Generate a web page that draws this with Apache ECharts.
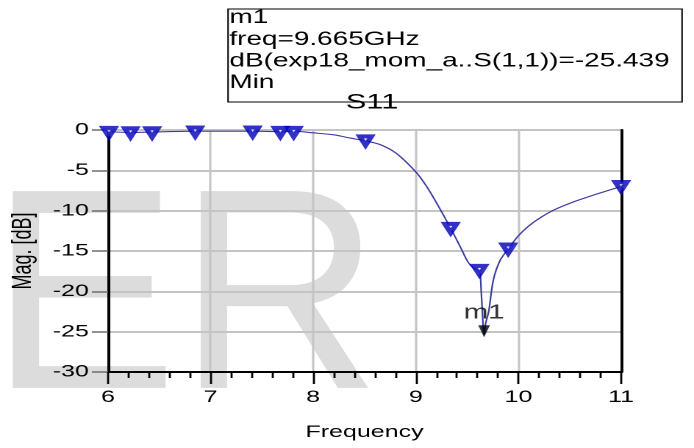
<!DOCTYPE html>
<html>
<head>
<meta charset="utf-8">
<script src="https://cdn.jsdelivr.net/npm/echarts@6/dist/echarts.min.js"></script>
<style>
  html, body { margin: 0; padding: 0; background: #fff; overflow: hidden; }
  #wrap { width: 694px; height: 448px; overflow: hidden; }
  /* the plot is laid out narrow and widened horizontally, like the exported trace */
  #chart { width: 472px; height: 448px; transform: scaleX(1.4703); transform-origin: 0 0; }
</style>
</head>
<body>
<div id="wrap"><div id="chart"></div></div>
<script>
// S11 trace (frequency in GHz, magnitude in dB)
const freqGHz = [6.0, 6.22, 6.43, 6.85, 7.41, 7.68, 7.81, 8.0, 8.2, 8.36, 8.51, 8.65, 8.81, 9.0, 9.1, 9.2,
  9.34, 9.43, 9.51, 9.57, 9.62, 9.635, 9.65, 9.665, 9.68, 9.71, 9.755, 9.82, 9.9, 10.0, 10.1, 10.21, 10.35, 10.54, 10.76, 11.0];
const s11dB = [-0.2, -0.3, -0.25, -0.15, -0.15, -0.2, -0.15, -0.35, -0.6, -1.0, -1.35, -1.8, -2.9, -5.2, -6.9, -9.0,
  -12.2, -14.4, -16.4, -17.2, -17.4, -19.5, -23.0, -25.439, -24.0, -22.5, -18.6, -16.2, -14.75, -13.1, -11.9, -10.9, -9.9, -8.9, -7.95, -7.0];

// trace symbols
const symbolFreq = [6.01, 6.22, 6.43, 6.85, 7.41, 7.68, 7.81, 8.51, 9.34, 9.62, 9.90, 11.0];
const symbolDB = [-0.3, -0.35, -0.35, -0.25, -0.25, -0.3, -0.3, -1.35, -12.2, -17.4, -14.75, -7.0];

// marker m1 (minimum)
const m1Freq = 9.665;
const m1DB = -25.439;

const xTicks = [6, 7, 8, 9, 10, 11];
const yTicks = [0, -5, -10, -15, -20, -25, -30];

const readout = ['m1', 'freq=9.665GHz', 'dB(exp18_mom_a..S(1,1))=-25.439', 'Min'];

const FONT = 'Liberation Sans, Arial, sans-serif';
const chart = echarts.init(document.getElementById('chart'), null, { renderer: 'canvas', devicePixelRatio: 2 });

const linePts = freqGHz.map((f, i) => [f, s11dB[i]]);
const symPts = symbolFreq.map((f, i) => [f, symbolDB[i]]);

chart.setOption({
  animation: false,
  backgroundColor: '#fff',
  title: {
    text: 'S11', left: 248, top: 87, textAlign: 'center',
    textStyle: { fontFamily: FONT, fontSize: 21, fontWeight: 'normal', color: '#000' }
  },
  grid: { left: 73.45, right: 49.6, top: 130, bottom: 76, containLabel: false, outerBoundsMode: 'none' },
  xAxis: {
    type: 'value', min: xTicks[0], max: xTicks[xTicks.length - 1], interval: 1,
    name: 'Frequency', nameLocation: 'middle', nameGap: 52,
    nameTextStyle: { fontFamily: FONT, fontSize: 17, color: '#000' },
    axisLine: { onZero: false, lineStyle: { color: '#000', width: 2 } },
    axisTick: { show: true, length: 12, lineStyle: { color: '#000', width: 1.4 } },
    minorTick: { show: true, splitNumber: 5, length: 6, lineStyle: { color: '#000', width: 1.4 } },
    axisLabel: { fontFamily: FONT, fontSize: 17, color: '#000', margin: 17 },
    splitLine: { show: true, lineStyle: { color: '#c4c4c4', width: 1.5 } }
  },
  yAxis: [{
    type: 'value', min: yTicks[yTicks.length - 1], max: yTicks[0], interval: 5,
    name: 'Mag. [dB]', nameLocation: 'middle', nameGap: 47, nameRotate: 90,
    nameTextStyle: { fontFamily: FONT, fontSize: 18, color: '#000' },
    axisLine: { onZero: false, lineStyle: { color: '#000', width: 2 } },
    axisTick: { show: true, length: 11, lineStyle: { color: '#6e6e6e', width: 1.5 } },
    axisLabel: { fontFamily: FONT, fontSize: 17, color: '#000', margin: 13 },
    splitLine: { show: true, lineStyle: { color: '#c4c4c4', width: 2 } }
  }, {
    type: 'value', min: yTicks[yTicks.length - 1], max: yTicks[0], interval: 5, position: 'right',
    axisLine: { show: true, onZero: false, lineStyle: { color: '#000', width: 2 } },
    axisTick: { show: false }, axisLabel: { show: false }, splitLine: { show: false }
  }],
  graphic: [
    {
      type: 'text', x: -7, y: 309, scaleX: 0.67, z: -10, silent: true,
      style: { text: 'ER', fontFamily: FONT, fontSize: 286, fill: '#dcdcdc', verticalAlign: 'middle', align: 'left' }
    },
    {
      type: 'rect', shape: { x: 155.1, y: 9, width: 308.8, height: 93 }, z: 5,
      style: { fill: '#fff', stroke: '#000', lineWidth: 1 }
    }
  ].concat(readout.map((t, i) => ({
    type: 'text', x: 156, y: 18 + i * 21.6, z: 6,
    style: { text: t, fontFamily: FONT, fontSize: 19, fill: '#000', verticalAlign: 'middle', align: 'left' }
  }))),
  series: [
    {
      type: 'line', data: linePts, smooth: 0.3, showSymbol: false, z: 3,
      lineStyle: { color: '#3c3ca0', width: 1.1 }
    },
    {
      type: 'scatter', data: symPts, symbol: 'triangle', symbolRotate: 180, symbolSize: [8, 9], z: 4,
      itemStyle: { color: '#e8e8ff', borderColor: '#0000b8', borderWidth: 3.8 }
    },
    {
      type: 'scatter', data: [[m1Freq, m1DB]], symbol: 'triangle', symbolRotate: 180,
      symbolSize: [8, 12], symbolOffset: [0, -4], z: 6,
      itemStyle: { color: '#000' },
      label: {
        show: true, formatter: 'm1', position: 'inside', offset: [0, -18],
        fontFamily: FONT, fontSize: 20, color: '#000'
      }
    }
  ]
});
</script>
</body>
</html>
